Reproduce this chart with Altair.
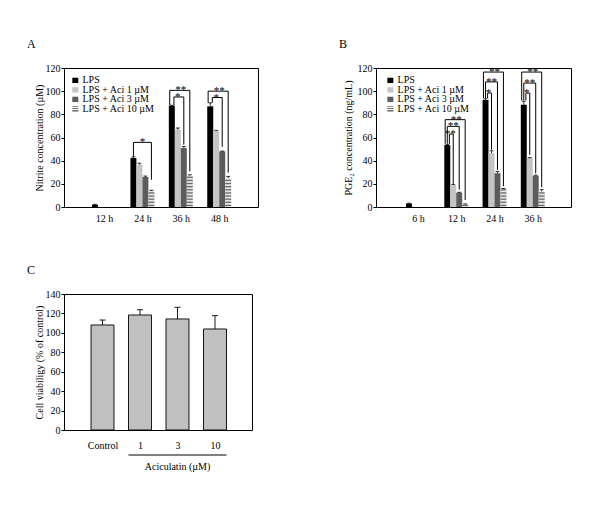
import json
import altair as alt
import pandas as pd

# ---------------- data ----------------
SERIES = ["LPS", "LPS + Aci 1 µM", "LPS + Aci 3 µM", "LPS + Aci 10 µM"]
COLORS = ["#000000", "#c4c4c4", "#5c5c5c", "#e4e4e4"]

A_TIMES = ["12 h", "24 h", "36 h", "48 h"]
A_LPS = [2.0, 42.3, 87.5, 86.9]
A_LPS_ERR = [0.3, 1.0, 0.3, 3.0]
A_ACI1 = [None, 36.5, 66.7, 65.9]
A_ACI1_ERR = [None, 1.3, 1.5, 0.3]
A_ACI3 = [None, 25.9, 50.9, 48.0]
A_ACI3_ERR = [None, 0.8, 1.3, 0.3]
A_ACI10 = [None, 14.0, 27.3, 25.0]
A_ACI10_ERR = [None, 0.4, 0.5, 1.4]

A_BR_GROUP = [1, 2, 2, 3, 3]
A_BR_TARGET = [3, 2, 3, 2, 3]
A_BR_LEVEL = [55.8, 95.0, 100.7, 94.5, 100.0]
A_BR_LEFT_END = [43.5, 88.0, 88.0, 90.0, 90.0]
A_BR_RIGHT_END = [23.6, 53.8, 30.8, 52.0, 29.6]
A_BR_LABEL = ["*", "*", "**", "*", "**"]

B_TIMES = ["6 h", "12 h", "24 h", "36 h"]
B_LPS = [3.0, 53.5, 92.5, 88.3]
B_LPS_ERR = [0.3, 0.5, 1.0, 3.0]
B_ACI1 = [None, 19.0, 46.5, 42.3]
B_ACI1_ERR = [None, 0.5, 2.0, 0.3]
B_ACI3 = [None, 12.3, 29.2, 27.0]
B_ACI3_ERR = [None, 0.4, 1.5, 0.5]
B_ACI10 = [None, 2.4, 15.5, 13.5]
B_ACI10_ERR = [None, 0.3, 0.5, 1.5]

B_BR_GROUP = [1, 1, 1, 2, 2, 2, 3, 3, 3]
B_BR_TARGET = [1, 2, 3, 1, 2, 3, 1, 2, 3]
B_BR_LEVEL = [63.0, 69.6, 75.4, 98.4, 108.0, 116.5, 98.4, 107.0, 116.5]
B_BR_LEFT_END = [54.5, 54.5, 54.5, 94.0, 94.0, 94.0, 92.0, 92.0, 92.0]
B_BR_RIGHT_END = [20.0, 15.0, 6.0, 49.5, 32.0, 18.0, 45.0, 29.0, 17.0]
B_BR_LABEL = ["**", "**", "**", "*", "**", "**", "*", "**", "**"]

C_CATS = ["Control", "1", "3", "10"]
C_VALUES = [108.1, 118.4, 114.3, 104.0]
C_ERR = [5.1, 5.4, 12.0, 13.7]
C_SPAN = [1, 3]  # categories under the "Aciculatin" bracket

# ---------------- style ----------------
FONT = "Liberation Serif"
BAR_W = 0.156
CAP_W = 0.10
STRIPE_STEP = 2.7
STRIPE_COLOR = "#6a6a6a"
LEG_ROW = 8.2       # legend row step (y units)
LEG_Y0 = 109.3      # first legend row centre (y units)
LEG_SYM_H = 4.6     # symbol height (y units)

stripe_grad = {
    "gradient": "linear", "x1": 0, "y1": 0, "x2": 0, "y2": 1,
    "stops": [
        {"offset": 0.0, "color": STRIPE_COLOR}, {"offset": 0.2, "color": STRIPE_COLOR},
        {"offset": 0.2, "color": "#ffffff"}, {"offset": 0.4, "color": "#ffffff"},
        {"offset": 0.4, "color": STRIPE_COLOR}, {"offset": 0.6, "color": STRIPE_COLOR},
        {"offset": 0.6, "color": "#ffffff"}, {"offset": 0.8, "color": "#ffffff"},
        {"offset": 0.8, "color": STRIPE_COLOR}, {"offset": 1.0, "color": STRIPE_COLOR},
    ],
}


def label_expr(labels):
    return json.dumps(labels, ensure_ascii=False) + "[datum.value]"


def grouped_panel(letter, times, values, errs, br, ytitle, domain, width, height, leg_x0, title_pad):
    rows = []
    for s, name in enumerate(SERIES):
        for g, (v, e) in enumerate(zip(values[s], errs[s])):
            if v is None:
                continue
            c = g + (s - 1.5) * BAR_W
            rows.append(dict(series=name, s=s, center=c, xl=c - BAR_W / 2, xr=c + BAR_W / 2,
                             value=v, base=0.0, top=v + e, capl=c - CAP_W / 2, capr=c + CAP_W / 2))
    df = pd.DataFrame(rows)

    stripes = []
    for r in rows:
        if r["s"] == 3:
            y = STRIPE_STEP * 0.5
            while y < r["value"] - 0.3:
                stripes.append(dict(xl=r["xl"], xr=r["xr"], y=y))
                y += STRIPE_STEP
    sdf = pd.DataFrame(stripes)

    g_, t_, lev, le, re_, lab = br
    brows = []
    for g, t, l1, a, b, txt in zip(g_, t_, lev, le, re_, lab):
        same = sorted([L for G, L in zip(g_, lev) if G == g], reverse=True)
        n = len(same)
        k = same.index(l1)
        lpos = 0.5 if n == 1 else 0.15 + 0.7 * k / (n - 1)
        lx = g - 1.5 * BAR_W - BAR_W / 2 + lpos * BAR_W
        rx = g + (t - 1.5) * BAR_W
        cx = g - 1.5 * BAR_W
        brows.append(dict(lx=lx, rx=rx, mx=(cx + rx) / 2, level=l1, le=a, re=b, label=txt))
    bdf = pd.DataFrame(brows)

    lrows = []
    for i, name in enumerate(SERIES):
        yc = LEG_Y0 - i * LEG_ROW
        lrows.append(dict(series=name, s=i, x1=leg_x0, x2=leg_x0 + BAR_W, tx=leg_x0 + BAR_W + 0.11,
                          y1=yc - LEG_SYM_H / 2, y2=yc + LEG_SYM_H / 2, yc=yc))
    ldf = pd.DataFrame(lrows)

    xs = alt.Scale(domain=domain, nice=False, zero=False)
    ys = alt.Scale(domain=[0, 120], nice=False)
    xaxis = alt.Axis(values=[0, 1, 2, 3], labelExpr=label_expr(times), ticks=False, domain=False,
                     grid=False, title=None, labelFont=FONT, labelFontSize=10, labelPadding=6,
                     labelColor="black")
    yaxis = alt.Axis(values=list(range(0, 121, 20)), title=ytitle, grid=False, domain=False,
                     tickSize=3, tickColor="black", labelFont=FONT, labelFontSize=10, labelPadding=1,
                     labelColor="black", titleFont=FONT, titleFontSize=10, titleFontWeight="normal",
                     titleColor="black", titlePadding=title_pad)

    def X(f):
        return alt.X(f"{f}:Q", scale=xs, axis=xaxis)

    def Y(f):
        return alt.Y(f"{f}:Q", scale=ys, axis=yaxis)

    color = alt.Color("series:N", scale=alt.Scale(domain=SERIES, range=COLORS), legend=None)

    bars = alt.Chart(df).mark_rect().encode(x=X("xl"), x2="xr", y=Y("value"), y2="base", color=color)
    stripe_layer = alt.Chart(sdf).mark_rule(color=STRIPE_COLOR, strokeWidth=1.3).encode(
        x=X("xl"), x2="xr", y=Y("y"))
    err = alt.Chart(df).mark_rule(color="black", strokeWidth=0.8).encode(x=X("center"), y=Y("value"), y2="top")
    cap = alt.Chart(df).mark_rule(color="black", strokeWidth=0.8).encode(x=X("capl"), x2="capr", y=Y("top"))
    h = alt.Chart(bdf).mark_rule(color="black", strokeWidth=1).encode(x=X("lx"), x2="rx", y=Y("level"))
    lv = alt.Chart(bdf).mark_rule(color="black", strokeWidth=1).encode(x=X("lx"), y=Y("level"), y2="le")
    rv = alt.Chart(bdf).mark_rule(color="black", strokeWidth=1).encode(x=X("rx"), y=Y("level"), y2="re")
    stars = alt.Chart(bdf).mark_text(font=FONT, fontSize=11, baseline="alphabetic", dy=3, color="black").encode(
        x=X("mx"), y=Y("level"), text="label:N")

    leg_sym = alt.Chart(ldf).transform_filter("datum.s < 3").mark_rect().encode(
        x=X("x1"), x2="x2", y=Y("y1"), y2="y2", color=color)
    leg_sym10 = alt.Chart(ldf).transform_filter("datum.s == 3").mark_rect(fill=stripe_grad).encode(
        x=X("x1"), x2="x2", y=Y("y1"), y2="y2")
    leg_txt = alt.Chart(ldf).mark_text(font=FONT, fontSize=10, align="left", baseline="middle",
                                       color="black").encode(x=X("tx"), y=Y("yc"), text="series:N")

    return alt.layer(bars, stripe_layer, err, cap, h, lv, rv, stars, leg_sym, leg_sym10, leg_txt).properties(
        width=width, height=height,
        title=alt.TitleParams(letter, anchor="start", frame="group", font=FONT, fontSize=12,
                              fontWeight="normal", color="black", dx=-37, offset=12),
    )


panel_a = grouped_panel(
    "A", A_TIMES,
    [A_LPS, A_ACI1, A_ACI3, A_ACI10], [A_LPS_ERR, A_ACI1_ERR, A_ACI3_ERR, A_ACI10_ERR],
    (A_BR_GROUP, A_BR_TARGET, A_BR_LEVEL, A_BR_LEFT_END, A_BR_RIGHT_END, A_BR_LABEL),
    "Nitrite concentration (µM)", [-1.042, 4.01], 194, 139, -0.826, 1)

panel_b = grouped_panel(
    "B", B_TIMES,
    [B_LPS, B_ACI1, B_ACI3, B_ACI10], [B_LPS_ERR, B_ACI1_ERR, B_ACI3_ERR, B_ACI10_ERR],
    (B_BR_GROUP, B_BR_TARGET, B_BR_LEVEL, B_BR_LEFT_END, B_BR_RIGHT_END, B_BR_LABEL),
    "PGE₂ concentration (ng/mL)", [-1.097, 4.0], 195, 139, -0.80, 4)

# ---------------- panel C ----------------
C_BAR_W = 0.613
C_CAP_W = 0.16
crow = []
for i, (v, e) in enumerate(zip(C_VALUES, C_ERR)):
    crow.append(dict(center=i, xl=i - C_BAR_W / 2, xr=i + C_BAR_W / 2, value=v, base=0.0, top=v + e,
                     capl=i - C_CAP_W / 2, capr=i + C_CAP_W / 2))
cdf = pd.DataFrame(crow)
span_df = pd.DataFrame([dict(x1=C_SPAN[0] - C_BAR_W / 2, x2=C_SPAN[1] + C_BAR_W / 2,
                             mid=(C_SPAN[0] + C_SPAN[1]) / 2, label="Aciculatin (µM)")])

cxs = alt.Scale(domain=[-1.027, 3.987], nice=False, zero=False)
cys = alt.Scale(domain=[0, 140], nice=False)
cxaxis = alt.Axis(values=[0, 1, 2, 3], labelExpr=label_expr(C_CATS), ticks=False, domain=False,
                  grid=False, title=None, labelFont=FONT, labelFontSize=10, labelPadding=10,
                  labelColor="black")
cyaxis = alt.Axis(values=list(range(0, 141, 20)), title="Cell viabiligy (% of control)", grid=False,
                  domain=False, tickSize=3, tickColor="black", labelFont=FONT, labelFontSize=10,
                  labelPadding=1, labelColor="black", titleFont=FONT, titleFontSize=10,
                  titleFontWeight="normal", titleColor="black", titlePadding=1)


def CX(f):
    return alt.X(f"{f}:Q", scale=cxs, axis=cxaxis)


def CY(f):
    return alt.Y(f"{f}:Q", scale=cys, axis=cyaxis)


C_H = 136
c_bars = alt.Chart(cdf).mark_rect(color="#c0c0c0", stroke="black", strokeWidth=0.9).encode(
    x=CX("xl"), x2="xr", y=CY("value"), y2="base")
c_err = alt.Chart(cdf).mark_rule(color="black", strokeWidth=0.9).encode(x=CX("center"), y=CY("value"), y2="top")
c_cap = alt.Chart(cdf).mark_rule(color="black", strokeWidth=0.9).encode(x=CX("capl"), x2="capr", y=CY("top"))
c_line = alt.Chart(span_df).mark_rule(color="black", strokeWidth=1).encode(
    x=CX("x1"), x2="x2", y=alt.value(C_H + 25))
c_text = alt.Chart(span_df).mark_text(font=FONT, fontSize=10, baseline="alphabetic", color="black").encode(
    x=CX("mid"), y=alt.value(C_H + 40), text="label:N")

panel_c = alt.layer(c_bars, c_err, c_cap, c_line, c_text).properties(
    width=188, height=C_H,
    title=alt.TitleParams("C", anchor="start", frame="group", font=FONT, fontSize=12,
                          fontWeight="normal", color="black", dx=-37, offset=12),
)

top = alt.hconcat(panel_a, panel_b, spacing=79).resolve_scale(
    color="independent", x="independent", y="independent")
chart = alt.vconcat(top, panel_c, spacing=39).resolve_scale(
    color="independent", x="independent", y="independent")

chart = chart.properties(
    padding={"left": 18, "top": 29, "right": 5, "bottom": 5},
    background="white",
).configure_view(stroke="black", strokeWidth=1)

chart.save("out.html", embed_options={"renderer": "svg", "actions": False})
